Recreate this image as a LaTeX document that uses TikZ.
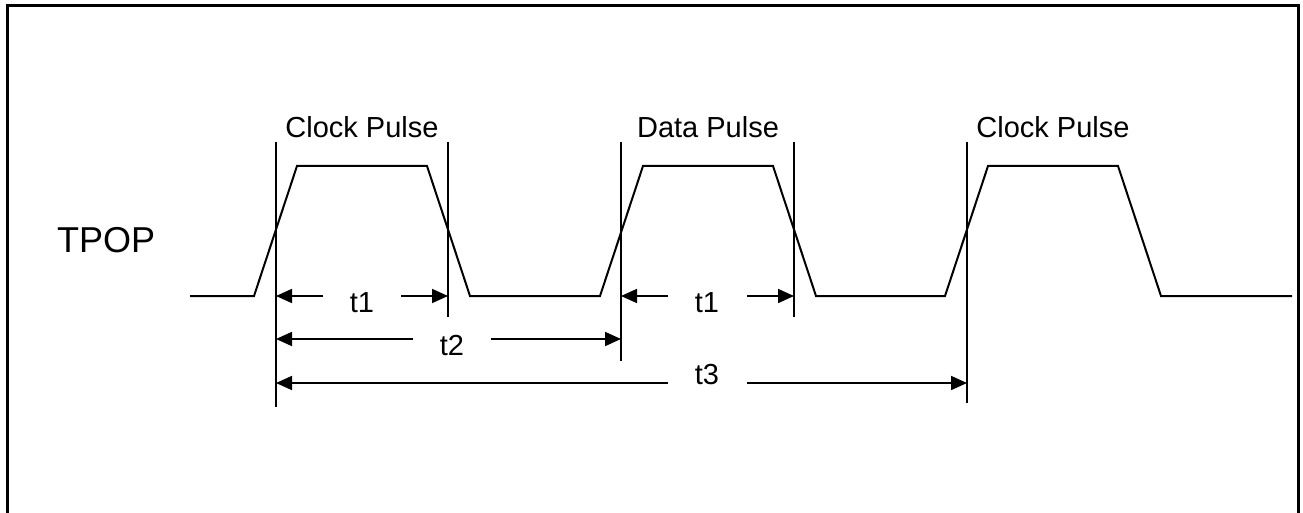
\documentclass[tikz,border=0pt]{standalone}
\usepackage{fontspec}
\setmainfont{Liberation Sans}
\usetikzlibrary{arrows.meta}
\begin{document}
\begin{tikzpicture}[x=1pt,y=-1pt,
  wave/.style={line width=2pt,line join=miter},
  marker/.style={line width=1.8pt},
  dim/.style={line width=1.8pt,-{Triangle[length=16pt,width=14pt]}},
  lbl/.style={font=\fontsize{29}{34}\selectfont,inner sep=0pt,anchor=base},
  frame/.style={line width=3.5pt}]
\useasboundingbox (0,0) rectangle (1303,513);
% frame (open at the bottom)
\draw[frame] (7.5,520) -- (7.5,5.5) -- (1298.5,5.5) -- (1298.5,520);

% signal name
\node[font=\fontsize{36}{42}\selectfont,inner sep=0pt,anchor=base west] (tpop) at (57,252) {TPOP};

% waveform
\coordinate (w0) at (190,296);
\coordinate (a1) at (254,296); \coordinate (b1) at (297,166);
\coordinate (c1) at (427,166); \coordinate (d1) at (470,296);
\coordinate (a2) at (600,296); \coordinate (b2) at (643,166);
\coordinate (c2) at (773,166); \coordinate (d2) at (816,296);
\coordinate (a3) at (945,296); \coordinate (b3) at (988,166);
\coordinate (c3) at (1118,166); \coordinate (d3) at (1161,296);
\coordinate (w9) at (1292,296);
\draw[wave] (w0) -- (a1) -- (b1) -- (c1) -- (d1) -- (a2) -- (b2) -- (c2) -- (d2)
  -- (a3) -- (b3) -- (c3) -- (d3) -- (w9);

% pulse labels
\node[lbl] (cp1) at (362,138) {Clock Pulse};
\node[lbl] (dp) at (708,138) {Data Pulse};
\node[lbl] (cp2) at (1053,138) {Clock Pulse};

% vertical marker lines
\coordinate (v1t) at (276,142); \coordinate (v1b) at (276,407);
\coordinate (v2t) at (448,142); \coordinate (v2b) at (448,317);
\coordinate (v3t) at (621,142); \coordinate (v3b) at (621,361);
\coordinate (v4t) at (794,142); \coordinate (v4b) at (794,317);
\coordinate (v5t) at (967,142); \coordinate (v5b) at (967,403);
\draw[marker] (v1t) -- (v1b);
\draw[marker] (v2t) -- (v2b);
\draw[marker] (v3t) -- (v3b);
\draw[marker] (v4t) -- (v4b);
\draw[marker] (v5t) -- (v5b);

% t1 (first)
\node[lbl] (t1a) at (362,312) {t1};
\coordinate (t1aL) at (323,296); \coordinate (t1aR) at (401,296);
\draw[dim] (t1aL) -- (v1t |- t1aL);
\draw[dim] (t1aR) -- (v2t |- t1aR);
% t1 (second)
\node[lbl] (t1b) at (707,312) {t1};
\coordinate (t1bL) at (668,296); \coordinate (t1bR) at (747,296);
\draw[dim] (t1bL) -- (v3t |- t1bL);
\draw[dim] (t1bR) -- (v4t |- t1bR);
% t2
\node[lbl] (t2) at (452,355) {t2};
\coordinate (t2L) at (413,339); \coordinate (t2R) at (491,339);
\draw[dim] (t2L) -- (v1t |- t2L);
\draw[dim] (t2R) -- (v3t |- t2R);
% t3
\node[lbl] (t3) at (707,384) {t3};
\coordinate (t3L) at (668,383); \coordinate (t3R) at (747,383);
\draw[dim] (t3L) -- (v1t |- t3L);
\draw[dim] (t3R) -- (v5t |- t3R);
\end{tikzpicture}
\end{document}
